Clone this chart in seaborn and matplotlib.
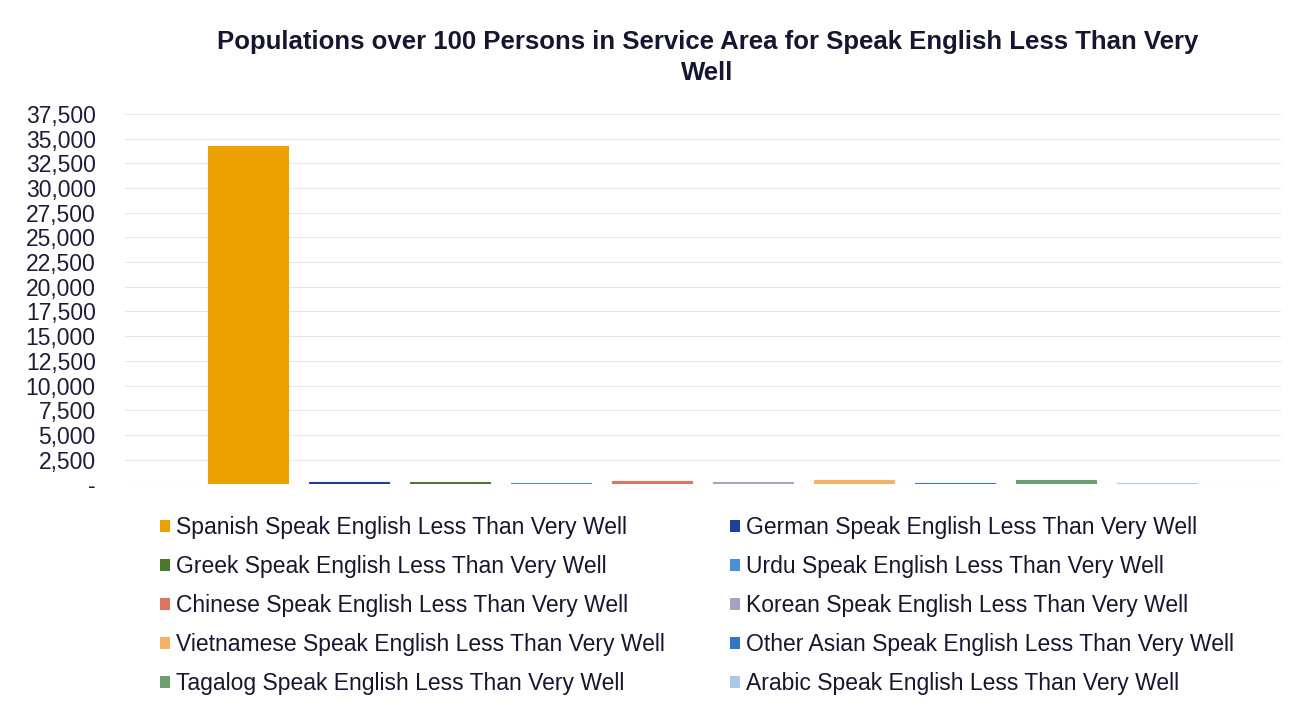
import seaborn as sns
import matplotlib.pyplot as plt
from matplotlib.patches import Patch
from matplotlib.ticker import FuncFormatter

# data
languages = ["Spanish", "German", "Greek", "Urdu", "Chinese",
             "Korean", "Vietnamese", "Other Asian", "Tagalog", "Arabic"]
values = [34300, 200, 180, 170, 330, 260, 480, 170, 420, 110]
colors = ["#EBA200", "#1F3F9C", "#4B7A2E", "#4A90D9", "#E07262",
          "#A3A3C2", "#F5B262", "#3077C8", "#6C9E72", "#A9C9E9"]
labels = [f"{l} Speak English Less Than Very Well" for l in languages]
yticks = list(range(0, 37501, 2500))

sns.set_theme(style="white")
plt.rcParams['font.family'] = ['Liberation Sans', 'DejaVu Sans']

fig = plt.figure(figsize=(13, 7.08), dpi=100)
ax = fig.add_axes([0.096, 0.316, 0.889, 0.523])

sns.barplot(x=labels, y=values, hue=labels, palette=colors, width=0.79,
            legend=False, ax=ax, saturation=1, linewidth=0.8)
for bar, c in zip(ax.patches, colors):
    bar.set_edgecolor(c)

ax.set_xlim(-1.22, 10.22)
ax.set_ylim(0, 37500)
ax.set_yticks(yticks)
ax.yaxis.set_major_formatter(FuncFormatter(lambda v, p: "-" if v == 0 else f"{int(v):,}"))
ax.tick_params(axis='y', labelsize=16.5, colors="#1c1c3a", pad=21, length=0)
ax.set_xticks([])
ax.set_xlabel("")
ax.set_ylabel("")
ax.grid(axis='y', color="#e6e6e6", linewidth=0.8)
ax.set_axisbelow(True)
for s in ax.spines.values():
    s.set_visible(False)

fig.text(0.544, 0.941, "Populations over 100 Persons in Service Area for Speak English Less Than Very",
         ha='center', va='center', fontsize=18.5, fontweight='bold', color="#161630")
fig.text(0.544, 0.897, "Well", ha='center', va='center', fontsize=18.5,
         fontweight='bold', color="#161630")

handles = [Patch(facecolor=c, edgecolor='none') for c in colors]
order = list(range(0, 10, 2)) + list(range(1, 10, 2))
fig.legend([handles[i] for i in order], [labels[i] for i in order],
           ncol=2, loc='upper left', bbox_to_anchor=(0.107, 0.30),
           frameon=False, fontsize=16.5, handlelength=0.45, handleheight=0.45,
           handletextpad=0.25, labelspacing=0.7, columnspacing=2.85,
           labelcolor="#161630")

fig.savefig("out.png", dpi=100, facecolor="white")
